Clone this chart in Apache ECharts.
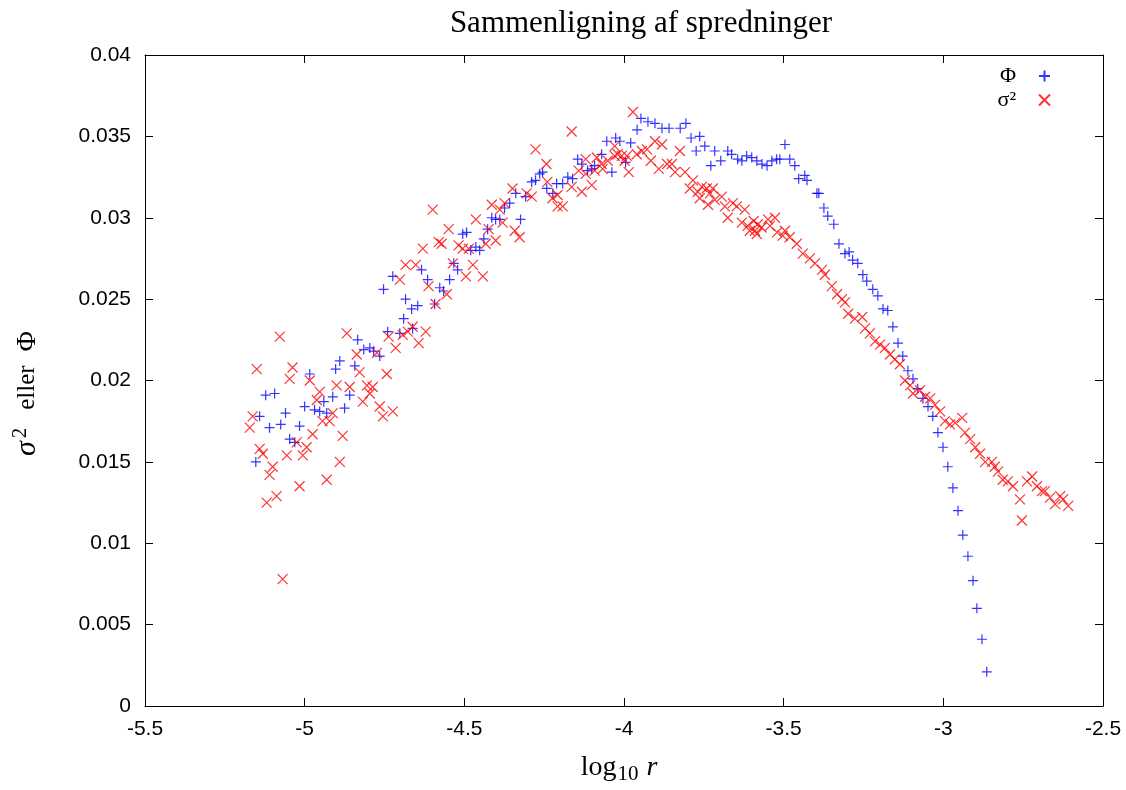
<!DOCTYPE html>
<html>
<head>
<meta charset="utf-8">
<script src="https://cdn.jsdelivr.net/npm/echarts@6/dist/echarts.min.js"></script>
<style>
html,body{margin:0;padding:0;background:#fff;overflow:hidden;}
#chart{width:1126px;height:790px;}
</style>
</head>
<body>
<div id="chart"></div>
<script>
// ---- Data ----
const titleText = 'Sammenligning af spredninger';
const xTicks = [-5.5, -5, -4.5, -4, -3.5, -3, -2.5];
const yTicks = [0, 0.005, 0.01, 0.015, 0.02, 0.025, 0.03, 0.035, 0.04];

// Φ series (blue +)
const phiX = [
 -5.153,-5.141,-5.122,-5.110,-5.094,-5.075,-5.060,-5.047,-5.031,-5.016,
 -5.000,-4.984,-4.969,-4.953,-4.940,-4.931,-4.912,-4.903,-4.890,-4.875,
 -4.859,-4.843,-4.834,-4.815,-4.796,-4.784,-4.765,-4.753,-4.740,-4.724,
 -4.702,-4.690,-4.684,-4.665,-4.662,-4.646,-4.634,-4.615,-4.593,-4.577,
 -4.565,-4.546,-4.533,-4.521,-4.505,-4.493,-4.480,-4.464,-4.452,-4.439,
 -4.427,-4.414,-4.402,-4.389,-4.374,-4.358,-4.339,-4.324,-4.308,-4.289,
 -4.277,-4.264,-4.255,-4.242,-4.223,-4.211,-4.192,-4.176,-4.161,-4.145,
 -4.132,-4.114,-4.101,-4.092,-4.070,-4.054,-4.038,-4.026,-4.013,-3.995,
 -3.979,-3.959,-3.947,-3.925,-3.903,-3.881,-3.859,-3.824,-3.806,-3.790,
 -3.774,-3.763,-3.747,-3.728,-3.716,-3.697,-3.675,-3.663,-3.644,-3.631,
 -3.616,-3.600,-3.584,-3.568,-3.552,-3.537,-3.522,-3.512,-3.496,-3.481,
 -3.465,-3.453,-3.434,-3.427,-3.396,-3.390,-3.374,-3.362,-3.343,-3.327,
 -3.308,-3.295,-3.284,-3.268,-3.252,-3.240,-3.221,-3.205,-3.189,-3.174,
 -3.158,-3.142,-3.127,-3.111,-3.095,-3.080,-3.064,-3.048,-3.033,-3.017,
 -3.001,-2.986,-2.970,-2.954,-2.939,-2.923,-2.907,-2.895,-2.879,-2.864
];
const phiY = [
 0.0150,0.0178,0.0191,0.0171,0.0192,0.0173,0.0180,0.0164,0.0162,0.0172,
 0.0184,0.0204,0.0182,0.0181,0.0187,0.0180,0.0190,0.0207,0.0212,0.0183,
 0.0191,0.0209,0.0225,0.0219,0.0220,0.0218,0.0215,0.0256,0.0230,0.0264,
 0.0229,0.0238,0.0250,0.0244,0.0232,0.0246,0.0268,0.0262,0.0247,0.0257,
 0.0255,0.0262,0.0272,0.0268,0.0290,0.0291,0.0280,0.0282,0.0280,0.0287,
 0.0293,0.0300,0.0299,0.0299,0.0306,0.0309,0.0315,0.0299,0.0313,0.0322,
 0.0323,0.0327,0.0328,0.0318,0.0315,0.0321,0.0321,0.0325,0.0324,0.0336,
 0.0333,0.0329,0.0330,0.0332,0.0339,0.0347,0.0328,0.0349,0.0347,0.0334,
 0.0346,0.0354,0.0361,0.0359,0.0358,0.0355,0.0355,0.0355,0.0358,0.0349,
 0.0341,0.0350,0.0344,0.0332,0.0341,0.0335,0.0341,0.0339,0.0336,0.0335,
 0.0338,0.0337,0.0335,0.0333,0.0332,0.0335,0.0336,0.0336,0.0345,0.0336,
 0.0332,0.0324,0.0326,0.0323,0.0315,0.0315,0.0306,0.0301,0.0296,0.0284,
 0.0278,0.0279,0.0274,0.0272,0.0265,0.0261,0.0256,0.0252,0.0244,0.0243,
 0.0233,0.0223,0.0215,0.0206,0.0201,0.0195,0.0189,0.0184,0.0178,0.0168,
 0.0159,0.0147,0.0134,0.0120,0.0105,0.0092,0.0077,0.0060,0.0041,0.0021
];

// σ² series (red ×)
const sigmaX = [
 -5.172,-5.163,-5.150,-5.141,-5.131,-5.119,-5.110,-5.100,-5.088,-5.078,
 -5.069,-5.056,-5.047,-5.038,-5.025,-5.016,-5.006,-4.994,-4.984,-4.975,
 -4.962,-4.953,-4.944,-4.931,-4.922,-4.912,-4.900,-4.890,-4.881,-4.868,
 -4.859,-4.837,-4.828,-4.818,-4.805,-4.796,-4.787,-4.774,-4.765,-4.755,
 -4.743,-4.737,-4.724,-4.715,-4.702,-4.693,-4.684,-4.677,-4.662,-4.652,
 -4.643,-4.630,-4.621,-4.612,-4.599,-4.590,-4.580,-4.571,-4.555,-4.549,
 -4.536,-4.518,-4.505,-4.495,-4.486,-4.473,-4.464,-4.442,-4.433,-4.424,
 -4.414,-4.402,-4.389,-4.380,-4.374,-4.349,-4.342,-4.327,-4.305,-4.289,
 -4.277,-4.243,-4.240,-4.224,-4.208,-4.208,-4.192,-4.164,-4.164,-4.142,
 -4.132,-4.120,-4.120,-4.101,-4.092,-4.085,-4.070,-4.067,-4.051,-4.029,
 -4.029,-4.020,-4.007,-3.998,-3.991,-3.985,-3.972,-3.960,-3.944,-3.928,
 -3.916,-3.903,-3.891,-3.881,-3.865,-3.850,-3.840,-3.825,-3.809,-3.794,
 -3.784,-3.769,-3.763,-3.756,-3.741,-3.737,-3.731,-3.722,-3.716,-3.694,
 -3.684,-3.675,-3.659,-3.647,-3.631,-3.622,-3.613,-3.606,-3.594,-3.590,
 -3.584,-3.581,-3.569,-3.549,-3.543,-3.527,-3.521,-3.503,-3.496,-3.481,
 -3.459,-3.440,-3.418,-3.402,-3.380,-3.371,-3.349,-3.333,-3.317,-3.308,
 -3.298,-3.277,-3.254,-3.245,-3.230,-3.214,-3.198,-3.183,-3.167,-3.152,
 -3.136,-3.120,-3.104,-3.095,-3.073,-3.057,-3.041,-3.026,-3.010,-2.995,
 -2.979,-2.963,-2.941,-2.932,-2.916,-2.900,-2.885,-2.869,-2.848,-2.839,
 -2.829,-2.814,-2.798,-2.782,-2.760,-2.754,-2.738,-2.722,-2.707,-2.691,
 -2.682,-2.666,-2.650,-2.634,-2.625,-2.609
];
const sigmaY = [
 0.0171,0.0178,0.0207,0.0158,0.0155,0.0125,0.0142,0.0147,0.0129,0.0227,
 0.0078,0.0154,0.0201,0.0208,0.0162,0.0135,0.0154,0.0159,0.0200,0.0167,
 0.0188,0.0193,0.0175,0.0139,0.0175,0.0180,0.0197,0.0150,0.0166,0.0229,
 0.0196,0.0216,0.0205,0.0187,0.0197,0.0192,0.0196,0.0217,0.0184,0.0178,
 0.0204,0.0227,0.0181,0.0220,0.0262,0.0228,0.0271,0.0230,0.0233,0.0271,
 0.0223,0.0281,0.0230,0.0258,0.0305,0.0247,0.0285,0.0284,0.0253,0.0293,
 0.0272,0.0283,0.0281,0.0264,0.0281,0.0271,0.0299,0.0264,0.0284,0.0293,
 0.0308,0.0286,0.0305,0.0297,0.0309,0.0318,0.0292,0.0288,0.0315,0.0313,
 0.0342,0.0333,0.0322,0.0312,0.0314,0.0307,0.0307,0.0353,0.0319,0.0329,
 0.0316,0.0336,0.0327,0.0320,0.0329,0.0337,0.0333,0.0330,0.0335,0.0344,
 0.0338,0.0339,0.0338,0.0335,0.0338,0.0328,0.0365,0.0339,0.0341,0.0342,
 0.0335,0.0347,0.0330,0.0345,0.0333,0.0333,0.0328,0.0341,0.0328,0.0318,
 0.0323,0.0316,0.0312,0.0319,0.0318,0.0308,0.0315,0.0318,0.0311,0.0313,
 0.0307,0.0300,0.0309,0.0307,0.0297,0.0305,0.0295,0.0292,0.0298,0.0292,
 0.0290,0.0296,0.0294,0.0299,0.0295,0.0300,0.0291,0.0289,0.0292,0.0288,
 0.0284,0.0278,0.0275,0.0272,0.0268,0.0265,0.0258,0.0253,0.0250,0.0248,
 0.0241,0.0238,0.0239,0.0232,0.0229,0.0224,0.0222,0.0220,0.0216,0.0213,
 0.0210,0.0200,0.0197,0.0192,0.0194,0.0190,0.0189,0.0185,0.0181,0.0175,
 0.0173,0.0174,0.0177,0.0168,0.0164,0.0159,0.0155,0.0150,0.0150,0.0147,
 0.0144,0.0139,0.0138,0.0135,0.0127,0.0114,0.0138,0.0141,0.0135,0.0132,
 0.0132,0.0128,0.0124,0.0129,0.0127,0.0123
];

const seriesNames = ['\u03A6', '\u03C3\u00B2'];
const seriesColors = ['#0000ff', '#ff0000'];

// ---- Build ----
const zip = (xs, ys) => xs.map((x, i) => [x, ys[i]]);
const plusPath = 'path://M5,0L5,10M0,5L10,5';
const crossPath = 'path://M0,0L10,10M0,10L10,0';

const sansFont = 'Liberation Sans, Arial, sans-serif';
const serifFont = 'Liberation Serif, DejaVu Serif, serif';

const axisCommon = {
  axisLine: {show: true, onZero: false, lineStyle: {color: '#000', width: 1}},
  axisTick: {show: true, inside: true, length: 8, lineStyle: {color: '#000', width: 1}},
  splitLine: {show: false},
};

const chart = echarts.init(document.getElementById('chart'), null, {renderer: 'canvas'});
chart.setOption({
  animation: false,
  backgroundColor: '#fff',
  title: {
    text: titleText,
    left: 636, top: 3, textAlign: 'center',
    textStyle: {fontFamily: serifFont, fontWeight: 'normal', fontSize: 31, color: '#000'}
  },
  legend: {
    orient: 'vertical',
    right: 70, top: 59,
    align: 'right',
    itemWidth: 11, itemHeight: 11, itemGap: 0,
    data: seriesNames,
    textStyle: {fontFamily: serifFont, fontSize: 22, lineHeight: 24, color: '#000', padding: [0, 18, 0, 0]},
  },
  grid: {left: 145, right: 23, top: 55, bottom: 75, containLabel: false},
  xAxis: [
    Object.assign({}, axisCommon, {
      type: 'value', min: xTicks[0], max: xTicks[xTicks.length - 1], interval: 0.5,
      position: 'bottom',
      axisLabel: {color: '#000', fontFamily: sansFont, fontSize: 21, margin: 13},
      name: '{n|log}{s|10}{i|r}',
      nameLocation: 'middle', nameGap: 44,
      nameTextStyle: {
        fontFamily: serifFont, fontSize: 27, color: '#000',
        rich: {
          n: {fontFamily: serifFont, fontSize: 28, color: '#000'},
          s: {fontFamily: serifFont, fontSize: 21, color: '#000', padding: [14, 0, 0, 1]},
          i: {fontFamily: serifFont, fontSize: 28, fontStyle: 'italic', color: '#000', padding: [0, 10, 0, 8]}
        }
      }
    }),
    Object.assign({}, axisCommon, {
      type: 'value', min: xTicks[0], max: xTicks[xTicks.length - 1], interval: 0.5,
      position: 'top', axisLabel: {show: false}
    })
  ],
  yAxis: [
    Object.assign({}, axisCommon, {
      type: 'value', min: yTicks[0], max: yTicks[yTicks.length - 1], interval: 0.005,
      position: 'left',
      axisLabel: {color: '#000', fontFamily: sansFont, fontSize: 21, margin: 14},
      name: '{i|\u03C3}{s|2}{n|eller}{p|\u03A6}',
      nameLocation: 'middle', nameGap: 100, nameRotate: 90,
      nameTextStyle: {
        fontFamily: serifFont, fontSize: 25, color: '#000',
        rich: {
          i: {fontFamily: serifFont, fontSize: 30, fontStyle: 'italic', color: '#000'},
          s: {fontFamily: serifFont, fontSize: 21, color: '#000', padding: [0, 0, 14, 3]},
          n: {fontFamily: serifFont, fontSize: 25, color: '#000', padding: [0, 0, 0, 18]},
          p: {fontFamily: serifFont, fontSize: 28, color: '#000', padding: [0, 26, 0, 14]}
        }
      }
    }),
    Object.assign({}, axisCommon, {
      type: 'value', min: yTicks[0], max: yTicks[yTicks.length - 1], interval: 0.005,
      position: 'right', axisLabel: {show: false}
    })
  ],
  series: [
    {
      name: seriesNames[0], type: 'scatter', xAxisIndex: 0, yAxisIndex: 0,
      data: zip(phiX, phiY),
      symbol: plusPath, symbolSize: 10,
      itemStyle: {color: 'rgba(0,0,0,0)', borderColor: seriesColors[0], borderWidth: 1.2},
      emphasis: {disabled: true}
    },
    {
      name: seriesNames[1], type: 'scatter', xAxisIndex: 0, yAxisIndex: 0,
      data: zip(sigmaX, sigmaY),
      symbol: crossPath, symbolSize: 10,
      itemStyle: {color: 'rgba(0,0,0,0)', borderColor: seriesColors[1], borderWidth: 1.2},
      emphasis: {disabled: true}
    }
  ]
});
</script>
</body>
</html>
